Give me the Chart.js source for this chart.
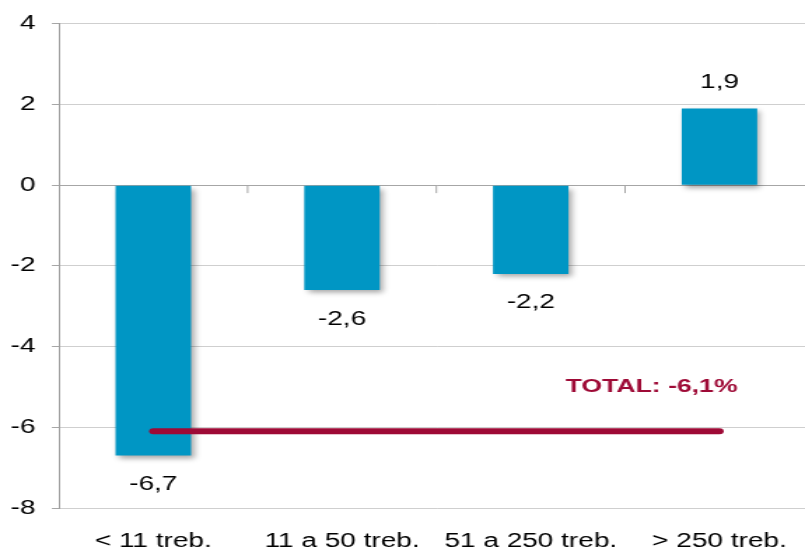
<!DOCTYPE html>
<html>
<head>
<meta charset="utf-8">
<script src="https://cdn.jsdelivr.net/npm/chart.js@4.4.1/dist/chart.umd.min.js"></script>
<style>
    html, body { margin: 0; padding: 0; background: #fff; width: 805px; height: 553px; overflow: hidden; }
    /* the reference is stretched sideways, so the chart is drawn narrow and widened */
    #wrap { transform: scaleX(1.4); transform-origin: 0 0; width: 583px; height: 553px; }
</style>
</head>
<body>
<div id="wrap"><canvas id="empresaChart" width="583" height="553"></canvas></div>
<script>
// categories and values
const categorias = ["< 11 treb.", "11 a 50 treb.", "51 a 250 treb.", "> 250 treb."];
const variacio = [-6.7, -2.6, -2.2, 1.9];
const total = -6.1;
const totalLinia = [total, total, total, total];
const yTicks = [-8, -6, -4, -2, 0, 2, 4];

const blau = "#0096c4";
const granate = "#9e0a36";
const font = "'Liberation Sans', Arial, sans-serif";

const fmt = (v) => v.toFixed(1).replace(".", ",");

// shadow under the bars
const ombraBarres = {
    id: "ombraBarres",
    beforeDatasetDraw(chart, args) {
        if (args.index !== 0) return;
        const ctx = chart.ctx;
        ctx.save();
        ctx.shadowColor = "rgba(0,0,0,0.35)";
        ctx.shadowBlur = 5;
        ctx.shadowOffsetX = 2.5;
        ctx.shadowOffsetY = 3;
    },
    afterDatasetDraw(chart, args) {
        if (args.index !== 0) return;
        chart.ctx.restore();
    },
};

// small tick marks on the zero line between categories
const marquesZero = {
    id: "marquesZero",
    beforeDatasetsDraw(chart) {
        const { ctx, scales } = chart;
        const y0 = scales.y.getPixelForValue(0);
        ctx.save();
        ctx.strokeStyle = "#a6a6a6";
        ctx.lineWidth = 1;
        for (let i = 0; i < categorias.length - 1; i++) {
            const x = (scales.x.getPixelForValue(i) + scales.x.getPixelForValue(i + 1)) / 2;
            ctx.beginPath();
            ctx.moveTo(x, y0);
            ctx.lineTo(x, y0 + 8);
            ctx.stroke();
        }
        ctx.restore();
    },
};

// value labels + total text
const etiquetes = {
    id: "etiquetes",
    afterDatasetsDraw(chart) {
        const { ctx, scales } = chart;
        ctx.save();
        ctx.font = "20px " + font;
        ctx.fillStyle = "#000";
        ctx.textAlign = "center";
        ctx.textBaseline = "middle";
        chart.getDatasetMeta(0).data.forEach((bar, i) => {
            const v = variacio[i];
            const y = v >= 0 ? bar.y - 26 : bar.y + 29;
            ctx.fillText(fmt(v), bar.x, y);
        });
        ctx.font = "bold 19px " + font;
        ctx.fillStyle = granate;
        ctx.fillText("TOTAL: " + fmt(total) + "%", scales.x.getPixelForValue(2.64), scales.y.getPixelForValue(-5));
        ctx.restore();
    },
};

const ctx = document.getElementById("empresaChart").getContext("2d");
const empresaChart = new Chart(ctx, {
    data: {
        labels: categorias,
        datasets: [
            {
                type: "bar",
                data: variacio,
                backgroundColor: blau,
                barPercentage: 0.4,
                categoryPercentage: 1,
                order: 1,
            },
            {
                type: "line",
                data: totalLinia,
                borderColor: granate,
                borderWidth: 6,
                borderCapStyle: "round",
                pointRadius: 0,
                fill: false,
                order: 0,
            },
        ],
    },
    options: {
        responsive: false,
        animation: false,
        devicePixelRatio: 1,
        layout: { autoPadding: false, padding: { top: 20, left: 7.6, right: 0, bottom: 0 } },
        plugins: {
            legend: { display: false },
            tooltip: { enabled: false },
        },
        scales: {
            x: {
                grid: { display: false, drawTicks: false },
                border: { display: false },
                afterFit: (axis) => { axis.height = 45; },
                ticks: {
                    padding: 21,
                    color: "#000",
                    font: { family: font, size: 20 },
                    maxRotation: 0,
                },
            },
            y: {
                min: -8,
                max: 4,
                afterBuildTicks: (axis) => {
                    axis.ticks = yTicks.map((v) => ({ value: v }));
                },
                afterFit: (axis) => { axis.width = 34.5; },
                grid: {
                    color: (c) => (c.tick && c.tick.value === 0 ? "#a6a6a6" : "#cfcfcf"),
                    tickColor: "#a6a6a6",
                    tickLength: 5,
                },
                border: { color: "#a0a0a0", width: 1 },
                ticks: {
                    padding: 11.7,
                    color: "#000",
                    font: { family: font, size: 20 },
                    callback: (v) => String(v),
                },
            },
        },
    },
    plugins: [ombraBarres, marquesZero, etiquetes],
});
</script>
</body>
</html>
